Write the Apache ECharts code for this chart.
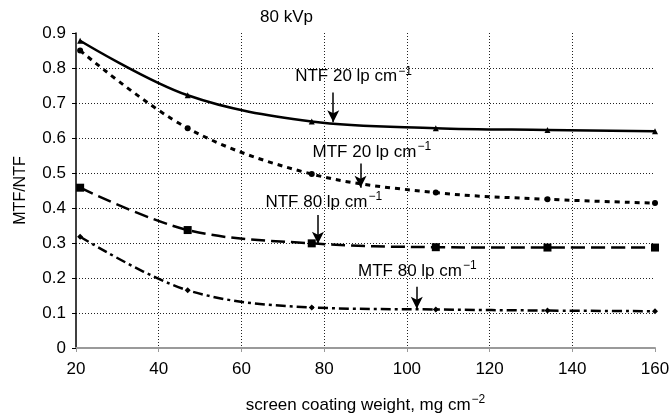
<!DOCTYPE html>
<html>
<head>
<meta charset="utf-8">
<script src="https://cdn.jsdelivr.net/npm/echarts@6/dist/echarts.min.js"></script>
<style>
  html, body { margin: 0; padding: 0; background: #fff; }
  #chart { width: 672px; height: 419px; }
</style>
</head>
<body>
<div id="chart"></div>
<script>
// coating weights (mg cm^-2) where the points were measured
var weights = [21, 47, 77, 107, 134, 160];

var ntf20 = [0.878, 0.722, 0.647, 0.628, 0.623, 0.619];
var mtf20 = [0.850, 0.628, 0.497, 0.444, 0.425, 0.414];
var ntf80 = [0.458, 0.337, 0.299, 0.288, 0.287, 0.287];
var mtf80 = [0.318, 0.165, 0.116, 0.110, 0.107, 0.105];

// annotation labels: [x, y] of text start, then arrow from/to
var notes = [
  { text: 'NTF 20 lp cm', pos: [73, 0.775], arrow: [[82.2, 0.73], [82.2, 0.645]] },
  { text: 'MTF 20 lp cm', pos: [77.2, 0.56], arrow: [[88.8, 0.527], [88.8, 0.458]] },
  { text: 'NTF 80 lp cm', pos: [65.8, 0.417], arrow: [[78.5, 0.38], [78.5, 0.298]] },
  { text: 'MTF 80 lp cm', pos: [88.2, 0.219], arrow: [[102.4, 0.175], [102.4, 0.112]] }
];

function pairs(ys) {
  return weights.map(function (x, i) { return [x, ys[i]]; });
}

var chart = echarts.init(document.getElementById('chart'));
var font = 'Liberation Sans, Arial, sans-serif';

function curve(name, ys, symbol, size, dash, width) {
  return {
    name: name,
    type: 'line',
    data: pairs(ys),
    smooth: 0.35,
    symbol: symbol,
    symbolSize: size,
    itemStyle: { color: '#000' },
    lineStyle: { color: '#000', width: width, type: dash },
    z: 3
  };
}

var arrowSeries = {
  type: 'line',
  data: [],
  markLine: {
    silent: true,
    symbol: ['none', 'arrow'],
    symbolSize: [9, 12],
    label: { show: false },
    lineStyle: { color: '#000', width: 1.5, type: 'solid' },
    data: notes.map(function (n) {
      return [{ coord: n.arrow[0] }, { coord: n.arrow[1] }];
    })
  },
  z: 4
};

var option = {
  animation: false,
  grid: { left: 76, right: 17, top: 33, bottom: 71, outerBoundsMode: 'none', containLabel: false },
  xAxis: {
    type: 'value',
    min: 20, max: 160, interval: 20,
    name: 'screen coating weight, mg cm{s|−2}',
    nameLocation: 'middle',
    nameGap: 46,
    nameTextStyle: {
      color: '#000', fontSize: 17, fontFamily: font,
      rich: { s: { fontSize: 12, verticalAlign: 'top', padding: [0, 0, 11, 1], fontFamily: font, color: '#000' } }
    },
    axisLine: { lineStyle: { color: '#9a9a9a', width: 2 } },
    axisTick: { show: true, length: 4, lineStyle: { color: '#9a9a9a' } },
    axisLabel: { color: '#000', fontSize: 17, fontFamily: font, margin: 13 },
    splitLine: {
      show: true, showMinLine: false, showMaxLine: false,
      lineStyle: { color: '#222', width: 1, type: [1, 2] }
    }
  },
  yAxis: {
    type: 'value',
    min: 0, max: 0.9, interval: 0.1,
    name: 'MTF/NTF',
    nameLocation: 'middle',
    nameGap: 47,
    nameTextStyle: { color: '#000', fontSize: 16, fontFamily: font },
    axisLine: { show: true, lineStyle: { color: '#000', width: 1.5 } },
    axisTick: { show: true, length: 4, lineStyle: { color: '#000' } },
    axisLabel: {
      color: '#000', fontSize: 17, fontFamily: font, margin: 10,
      formatter: function (v) { return v === 0 ? '0' : v.toFixed(1); }
    },
    splitLine: {
      show: true, showMinLine: false, showMaxLine: false,
      lineStyle: { color: '#222', width: 1, type: [1, 2] }
    }
  },
  series: [
    curve('NTF 20', ntf20, 'triangle', 6, 'solid', 2.5),
    curve('MTF 20', mtf20, 'circle', 6, [5, 5], 3),
    curve('NTF 80', ntf80, 'rect', 8, [14, 6], 2.5),
    curve('MTF 80', mtf80, 'diamond', 6, [10, 4, 3, 4], 2.5),
    arrowSeries
  ]
};

chart.setOption(option);

// text labels placed through the chart's own scales
var texts = notes.map(function (n) {
  var p = chart.convertToPixel({ gridIndex: 0 }, n.pos);
  return {
    type: 'text',
    x: p[0], y: p[1],
    z: 10,
    style: {
      text: '{m|' + n.text + '}{s|−1}',
      verticalAlign: 'middle',
      rich: {
        m: { fontSize: 17, fontFamily: font, fill: '#000' },
        s: { fontSize: 12, fontFamily: font, fill: '#000', verticalAlign: 'top', padding: [0, 0, 11, 1] }
      }
    }
  };
});
texts.push({
  type: 'text',
  left: 260, top: 9,
  style: { text: '80 kVp', fontSize: 17, fontFamily: font, fill: '#000' }
});

chart.setOption({ graphic: texts });
</script>
</body>
</html>
